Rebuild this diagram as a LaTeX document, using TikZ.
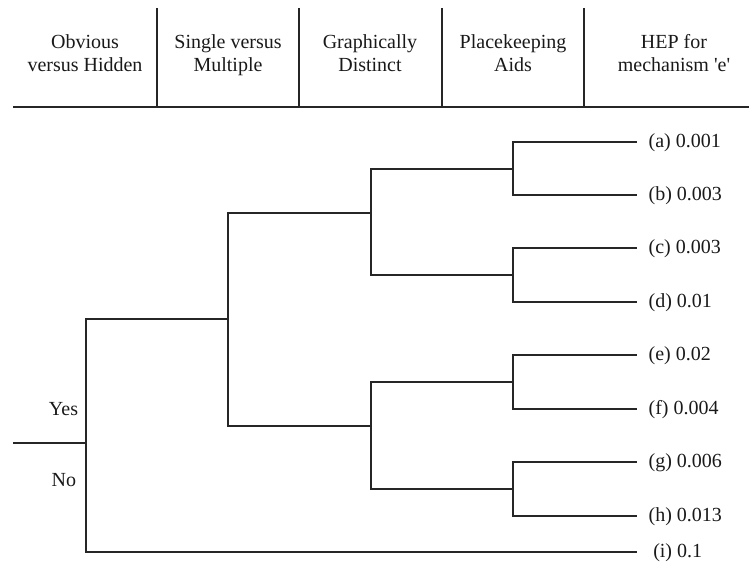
\documentclass[tikz,border=0pt]{standalone}
\usepackage{fontspec}
\setmainfont{Liberation Serif}

\begin{document}
\begin{tikzpicture}[x=0.75pt,y=-0.75pt, line width=1.4pt,
    every node/.style={font=\fontsize{15}{17.25}\selectfont, text=black!90},
    leaf/.style={anchor=west, inner xsep=8pt, inner ysep=0pt, text height=11pt, text depth=3pt},
    head/.style={align=center, inner sep=0pt, anchor=base},
    answer/.style={anchor=east, inner sep=0pt}]

\useasboundingbox (0,0) rectangle (749,563);

% l'en-tete du tableau
\draw[draw=black!85] (13,107) -- (749,107);
\foreach \X in {157,299,442,584}{
    \draw[draw=black!85] (\X,8) -- (\X,107);
}

\foreach \X/\Texte [count=\i] in {85/{Obvious\\versus Hidden}, 228/{Single versus\\Multiple},
    370/{Graphically\\Distinct}, 513/{Placekeeping\\Aids},
    674/{HEP for\\mechanism \textquotesingle e\textquotesingle}}{
    \node[head] (h\i) at (\X,72) {\Texte};
}

% les embranchements
\coordinate (start) at (13,443);
\coordinate (j0) at (86,443);
\coordinate (j1) at (228,319);
\coordinate (j2) at (371,213);
\coordinate (j3) at (371,426);
\coordinate (j4) at (513,169);
\coordinate (j5) at (513,275);
\coordinate (j6) at (513,382);
\coordinate (j7) at (513,489);

\node[answer] (yes) at (79,409) {Yes};
\node[answer] (no) at (77,480) {No};

% les feuilles
\foreach \Name/\Y/\Texte in {a/142/{(a) 0.001}, b/195/{(b) 0.003}, c/248/{(c) 0.003},
    d/302/{(d) 0.01}, e/355/{(e) 0.02}, f/409/{(f) 0.004}, g/462/{(g) 0.006},
    h/516/{(h) 0.013}}{
    \node[leaf] (\Name) at (637,\Y) {\Texte};
}
\node[leaf, inner xsep=11.5pt] (i) at (637,552) {(i) 0.1};

\begin{scope}[draw=black!85]
\draw (start) -- (j0);
\draw (j0) |- (j1);
\draw (j0) |- (i.west);
\draw (j1) |- (j2);
\draw (j1) |- (j3);
\draw (j2) |- (j4);
\draw (j2) |- (j5);
\draw (j3) |- (j6);
\draw (j3) |- (j7);
\draw (j4) |- (a.west);
\draw (j4) |- (b.west);
\draw (j5) |- (c.west);
\draw (j5) |- (d.west);
\draw (j6) |- (e.west);
\draw (j6) |- (f.west);
\draw (j7) |- (g.west);
\draw (j7) |- (h.west);
\end{scope}

\end{tikzpicture}
\end{document}
